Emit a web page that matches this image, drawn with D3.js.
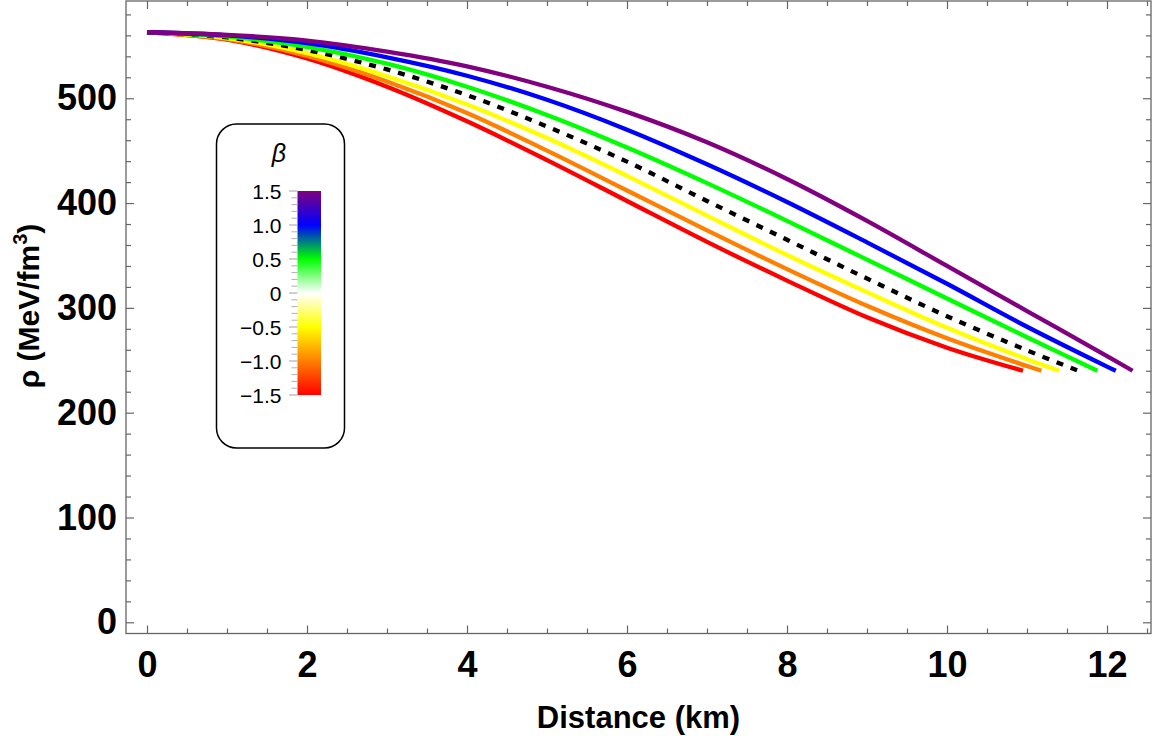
<!DOCTYPE html>
<html>
<head>
<meta charset="utf-8">
<script src="https://cdn.jsdelivr.net/npm/d3@7"></script>
<style>
  html, body { margin: 0; padding: 0; background: #fff; }
  svg { display: block; font-family: "Liberation Sans", Arial, sans-serif; }
</style>
</head>
<body>
<svg id="chart" width="1152" height="736"></svg>
<script>
// ---------------- data ----------------
const seriesNames = ["β = -1.5", "β = -1.0", "β = -0.5", "β = 0", "β = 0.5", "β = 1.0", "β = 1.5"];
const seriesColors = ["#ff0000", "#ff8000", "#ffff00", "#000000", "#00ff00", "#0000ff", "#800080"];

const rRed    = [0, 1, 2, 3, 4, 5, 6, 7, 8, 9, 10, 10.95];
const rhoRed  = [563, 556, 538, 511, 478, 441, 402, 363, 326, 291, 262, 240];

const rOrange   = [0, 1, 2, 3, 4, 5, 6, 7, 8, 9, 10, 11, 11.18];
const rhoOrange = [563, 556.5, 540.5, 516, 486, 450, 412, 374, 337, 302, 271, 244.5, 240];

const rYellow   = [0, 1, 2, 3, 4, 5, 6, 7, 8, 9, 10, 11, 11.40];
const rhoYellow = [563, 557.5, 543, 521, 494, 462, 426, 388, 350.5, 315, 281, 251, 240];

const rBlack   = [0, 1, 2, 3, 4, 5, 6, 7, 8, 9, 10, 11, 11.64];
const rhoBlack = [563, 558, 546, 527.5, 503, 473, 439.5, 402, 365, 328, 292, 259.5, 240];

const rGreen   = [0, 1, 2, 3, 4, 5, 6, 7, 8, 9, 10, 11, 11.88];
const rhoGreen = [563, 559, 549, 533, 511, 484, 453, 419, 383, 346, 309, 272, 240];

const rBlue   = [0, 1, 2, 3, 4, 5, 6, 7, 8, 9, 10, 11, 12, 12.11];
const rhoBlue = [563, 560, 552.5, 539, 521.5, 498.5, 470, 437, 401, 362.5, 323, 282, 244, 240];

const rPurple   = [0, 1, 2, 3, 4, 5, 6, 7, 8, 9, 10, 11, 12, 12.32];
const rhoPurple = [563, 560.5, 555, 544.5, 530.5, 511, 487, 458, 423, 383, 340, 297, 254, 240];

const xMajorTicks = [0, 2, 4, 6, 8, 10, 12];
const yMajorTicks = [0, 100, 200, 300, 400, 500];

const legendStops = [
  { value: 1.5,  color: "#800080" },
  { value: 1.0,  color: "#0000ff" },
  { value: 0.5,  color: "#00ff00" },
  { value: 0,    color: "#ffffff" },
  { value: -0.5, color: "#ffff00" },
  { value: -1.0, color: "#ff8000" },
  { value: -1.5, color: "#ff0000" }
];
const legendTickLabels = ["1.5", "1.0", "0.5", "0", "\u22120.5", "\u22121.0", "\u22121.5"];
const legendTickValues = [1.5, 1.0, 0.5, 0, -0.5, -1.0, -1.5];

// ---------------- layout ----------------
const svg = d3.select("#chart");
const plot = { left: 126, right: 1151, top: 1, bottom: 633.5 };

const x = d3.scaleLinear().domain([-0.2625, 12.55]).range([plot.left, plot.right]);
const y = d3.scaleLinear().domain([-10.69, 592.8]).range([plot.bottom, plot.top]);

const frameColor = "#666666";

const defs = svg.append("defs");
defs.append("clipPath").attr("id", "clip")
  .append("rect")
  .attr("x", plot.left).attr("y", plot.top)
  .attr("width", plot.right - plot.left).attr("height", plot.bottom - plot.top);

// ---------------- axes ----------------
const xMinor = d3.range(0, 12.51, 0.5).filter(v => !xMajorTicks.includes(v));
const yMinor = d3.range(0, 581, 20).filter(v => !yMajorTicks.includes(v));

function styleAxis(g) {
  g.select(".domain").remove();
  g.selectAll(".tick line").attr("stroke", frameColor).attr("stroke-width", 1.2);
}
function styleLabels(g) {
  g.selectAll("text").attr("font-size", 36).attr("font-weight", "bold").attr("fill", "#000")
    .attr("font-family", "'Liberation Sans', Arial, sans-serif");
}

// bottom
svg.append("g").attr("transform", `translate(0,${plot.bottom})`)
  .call(d3.axisBottom(x).tickValues(xMajorTicks).tickSize(-8).tickPadding(18).tickFormat(d3.format("d")))
  .call(styleAxis).call(styleLabels);
svg.append("g").attr("transform", `translate(0,${plot.bottom})`)
  .call(d3.axisBottom(x).tickValues(xMinor).tickSize(-5).tickFormat(""))
  .call(styleAxis);
// top
svg.append("g").attr("transform", `translate(0,${plot.top})`)
  .call(d3.axisTop(x).tickValues(xMajorTicks).tickSize(-8).tickFormat(""))
  .call(styleAxis);
svg.append("g").attr("transform", `translate(0,${plot.top})`)
  .call(d3.axisTop(x).tickValues(xMinor).tickSize(-5).tickFormat(""))
  .call(styleAxis);
// left
svg.append("g").attr("transform", `translate(${plot.left},0)`)
  .call(d3.axisLeft(y).tickValues(yMajorTicks).tickSize(-8).tickPadding(9).tickFormat(d3.format("d")))
  .call(styleAxis).call(styleLabels);
svg.append("g").attr("transform", `translate(${plot.left},0)`)
  .call(d3.axisLeft(y).tickValues(yMinor).tickSize(-5).tickFormat(""))
  .call(styleAxis);
// right
svg.append("g").attr("transform", `translate(${plot.right},0)`)
  .call(d3.axisRight(y).tickValues(yMajorTicks).tickSize(-8).tickFormat(""))
  .call(styleAxis);
svg.append("g").attr("transform", `translate(${plot.right},0)`)
  .call(d3.axisRight(y).tickValues(yMinor).tickSize(-5).tickFormat(""))
  .call(styleAxis);

// frame
svg.append("rect")
  .attr("x", plot.left).attr("y", plot.top)
  .attr("width", plot.right - plot.left).attr("height", plot.bottom - plot.top)
  .attr("fill", "none").attr("stroke", frameColor).attr("stroke-width", 1.3);

// axis titles
svg.append("text")
  .attr("x", (plot.left + plot.right) / 2).attr("y", 728)
  .attr("text-anchor", "middle")
  .attr("font-size", 31).attr("font-weight", "bold")
  .text("Distance (km)");

const yTitle = svg.append("text")
  .attr("transform", "translate(39,306) rotate(-90)")
  .attr("text-anchor", "middle")
  .attr("font-size", 30).attr("font-weight", "bold");
yTitle.append("tspan").text("\u03c1 (MeV/fm");
yTitle.append("tspan").attr("font-size", 20).attr("dy", -12).text("3");
yTitle.append("tspan").attr("dy", 12).text(")");

// ---------------- curves ----------------
const series = [
  { r: rRed, rho: rhoRed },
  { r: rOrange, rho: rhoOrange },
  { r: rYellow, rho: rhoYellow },
  { r: rBlack, rho: rhoBlack },
  { r: rGreen, rho: rhoGreen },
  { r: rBlue, rho: rhoBlue },
  { r: rPurple, rho: rhoPurple }
].map((s, i) => ({
  name: seriesNames[i],
  color: seriesColors[i],
  points: s.r.map((rv, j) => [rv, s.rho[j]])
}));

const line = d3.line()
  .x(d => x(d[0]))
  .y(d => y(d[1]))
  .curve(d3.curveCatmullRom.alpha(0.5));

svg.append("g").attr("clip-path", "url(#clip)")
  .selectAll("path")
  .data(series)
  .join("path")
  .attr("d", d => line(d.points))
  .attr("fill", "none")
  .attr("stroke", d => d.color)
  .attr("stroke-width", 4.3)
  .attr("stroke-dasharray", d => d.name === "β = 0" ? "7,8" : null);

// ---------------- legend (colour bar) ----------------
const lg = svg.append("g");
lg.append("rect")
  .attr("x", 216.5).attr("y", 124).attr("width", 128).attr("height", 324)
  .attr("rx", 20).attr("ry", 20)
  .attr("fill", "#fff").attr("stroke", "#000").attr("stroke-width", 1.5);

lg.append("text")
  .attr("x", 279).attr("y", 162)
  .attr("text-anchor", "middle")
  .attr("font-size", 25).attr("font-style", "italic")
  .text("\u03b2");

const cb = d3.scaleLinear().domain([-1.5, 1.5]).range([395, 191]);

const grad = defs.append("linearGradient")
  .attr("id", "betaGrad")
  .attr("x1", 0).attr("y1", 0).attr("x2", 0).attr("y2", 1);
grad.selectAll("stop")
  .data(legendStops)
  .join("stop")
  .attr("offset", d => (cb(d.value) - cb(1.5)) / (cb(-1.5) - cb(1.5)))
  .attr("stop-color", d => d.color);

lg.append("rect")
  .attr("x", 297.5).attr("y", cb(1.5))
  .attr("width", 23.5).attr("height", cb(-1.5) - cb(1.5))
  .attr("fill", "url(#betaGrad)");

const cbMinor = d3.range(-1.5, 1.501, 0.1).map(v => Math.round(v * 10) / 10)
  .filter(v => !legendTickValues.some(t => Math.abs(t - v) < 1e-6));

lg.append("g")
  .selectAll("line")
  .data(cbMinor)
  .join("line")
  .attr("x1", 291.5).attr("x2", 297.5)
  .attr("y1", d => cb(d)).attr("y2", d => cb(d))
  .attr("stroke", "#b0b0b0").attr("stroke-width", 1);

lg.append("g")
  .selectAll("line")
  .data(legendTickValues)
  .join("line")
  .attr("x1", 289).attr("x2", 297.5)
  .attr("y1", d => cb(d)).attr("y2", d => cb(d))
  .attr("stroke", "#a0a0a0").attr("stroke-width", 1);

lg.append("g")
  .selectAll("text")
  .data(legendTickValues)
  .join("text")
  .attr("x", 281.5)
  .attr("y", d => cb(d))
  .attr("dy", "0.36em")
  .attr("text-anchor", "end")
  .attr("font-size", 21)
  .text((d, i) => legendTickLabels[i]);
</script>
</body>
</html>
